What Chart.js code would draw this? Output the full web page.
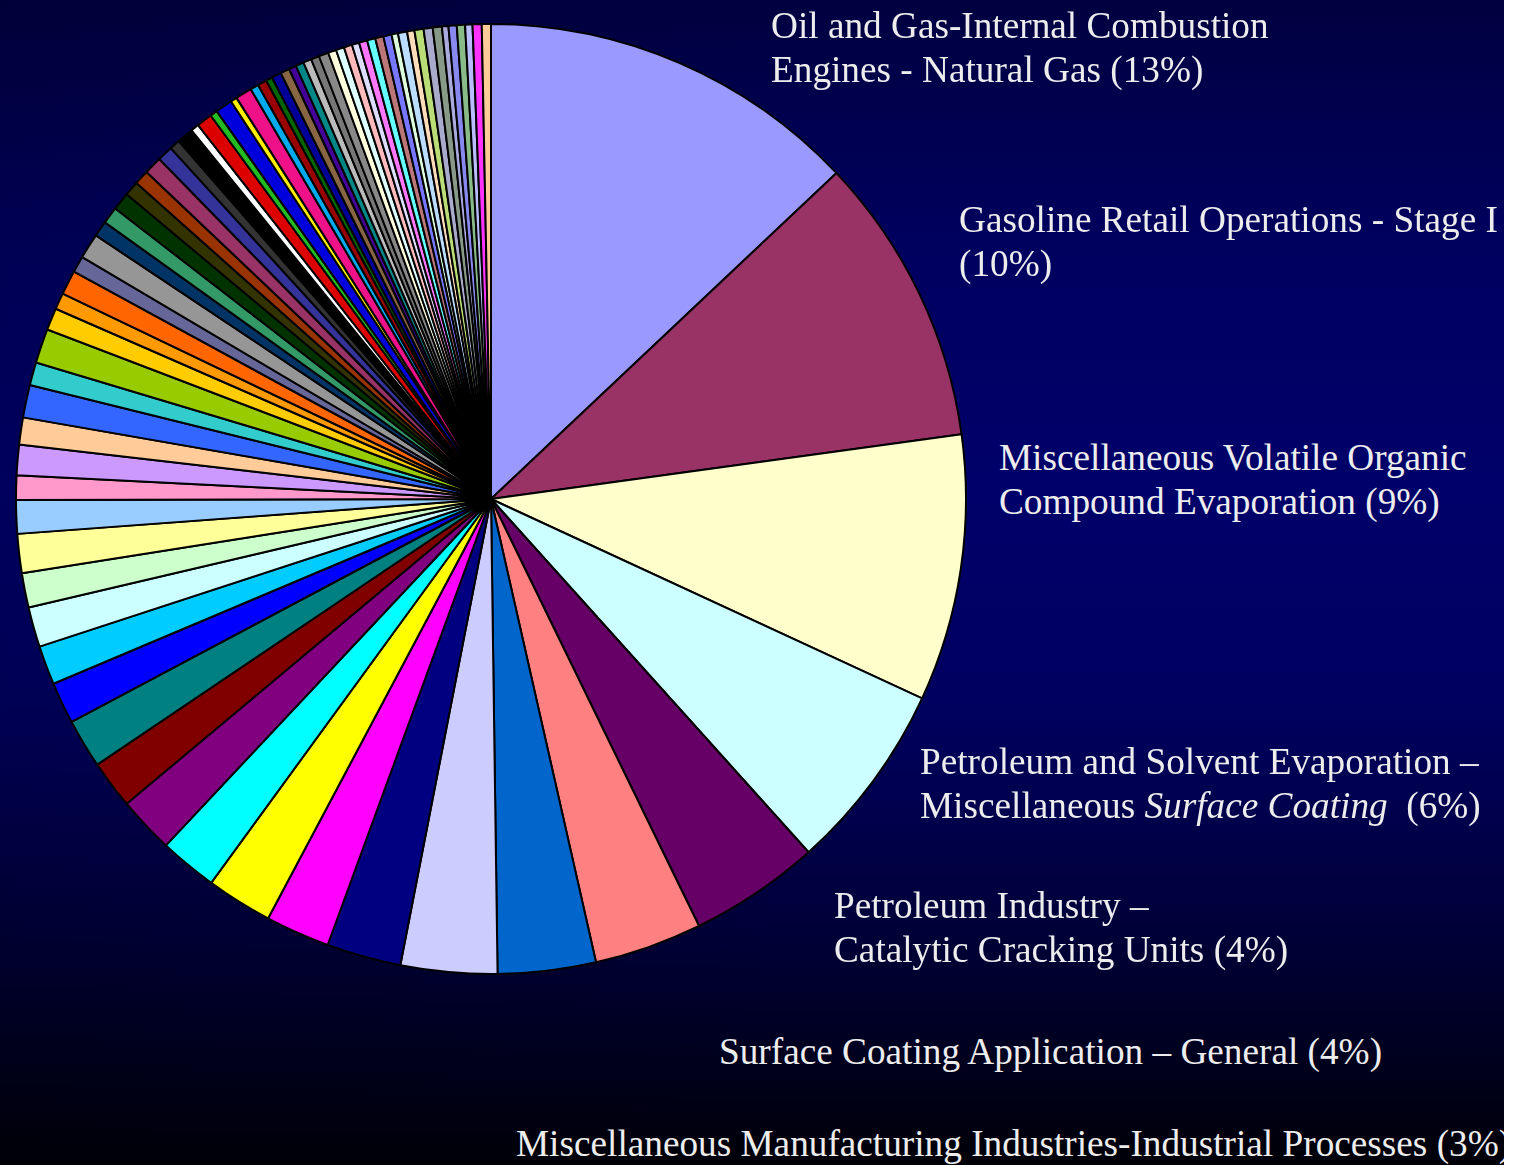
<!DOCTYPE html>
<html>
<head>
<meta charset="utf-8">
<script src="https://cdn.jsdelivr.net/npm/chart.js@4/dist/chart.umd.min.js"></script>
<style>
  html, body { margin: 0; padding: 0; background: #ffffff; }
  body { width: 1522px; height: 1165px; position: relative; overflow: hidden; }
  #bg {
    position: absolute; left: 0; top: 0; width: 1504px; height: 1165px; overflow: hidden;
    background:
      linear-gradient(to right, rgba(0,0,0,0.12) 0%, rgba(0,0,0,0) 55%),
      linear-gradient(to bottom, #000040 0%, #000060 22%, #00006A 42%, #000060 60%, #000038 80%, #000008 100%);
  }
  #wrap { position: absolute; left: 15px; top: 23px; width: 952px; height: 952px; }
  .lbl {
    position: absolute; white-space: pre; color: #EDEDED;
    font-family: "Liberation Serif", "Times New Roman", serif; font-size: 37.25px; line-height: 44px;
  }
</style>
</head>
<body>
<div id="bg">
  <div id="wrap"><canvas id="c" width="952" height="952"></canvas></div>
  <div class="lbl" style="left:771px; top:3.5px;">Oil and Gas-Internal Combustion
Engines - Natural Gas (13%)</div>
  <div class="lbl" style="left:959px; top:197.5px;">Gasoline Retail Operations - Stage I
(10%)</div>
  <div class="lbl" style="left:999px; top:435.5px;">Miscellaneous Volatile Organic
Compound Evaporation (9%)</div>
  <div class="lbl" style="left:920px; top:739.5px;">Petroleum and Solvent Evaporation –
Miscellaneous <i>Surface Coating</i>  (6%)</div>
  <div class="lbl" style="left:834px; top:883.5px;">Petroleum Industry –
Catalytic Cracking Units (4%)</div>
  <div class="lbl" style="left:719px; top:1029.5px;">Surface Coating Application – General (4%)</div>
  <div class="lbl" style="left:516px; top:1121.5px;">Miscellaneous Manufacturing Industries-Industrial Processes (3%)</div>
</div>
<script>
// Named categories (only the labelled sources are named in the picture)
const namedCategories = [
  "Oil and Gas-Internal Combustion Engines - Natural Gas",
  "Gasoline Retail Operations - Stage I",
  "Miscellaneous Volatile Organic Compound Evaporation",
  "Petroleum and Solvent Evaporation – Miscellaneous Surface Coating",
  "Petroleum Industry – Catalytic Cracking Units",
  "Surface Coating Application – General",
  "Miscellaneous Manufacturing Industries-Industrial Processes"
];

// Share of each source (%), clockwise from 12 o'clock
const shares = [
  12.97, 9.86, 9.08, 6.45, 4.44, 3.67, 3.33, 3.28, 2.53, 2.19,
  2.25, 1.97, 1.92, 1.64, 1.67, 1.42, 1.33, 1.36, 1.17, 1.33,
  1.14, 0.83, 1.03, 0.92, 1.11, 0.78, 1.17, 0.75, 0.56, 0.83,
  0.56, 0.86, 0.53, 0.58, 0.61, 0.50, 0.50, 0.61, 0.53, 0.36,
  0.56, 0.28, 0.53, 0.25, 0.58, 0.22, 0.56, 0.28, 0.31, 0.22,
  0.33, 0.31, 0.25, 0.28, 0.28, 0.28, 0.33, 0.28, 0.28, 0.28,
  0.25, 0.28, 0.28, 0.28, 0.28, 0.22, 0.31, 0.25, 0.31, 0.31,
  0.31, 0.22, 0.28, 0.28, 0.25, 0.31, 0.31
];

const sliceColors = [
  "#9999FF", "#993366", "#FFFFCC", "#CCFFFF", "#660066", "#FF8080", "#0066CC", "#CCCCFF", "#000080", "#FF00FF",
  "#FFFF00", "#00FFFF", "#800080", "#800000", "#008080", "#0000FF", "#00CCFF", "#CCFFFF", "#CCFFCC", "#FFFF99",
  "#99CCFF", "#FF99CC", "#CC99FF", "#FFCC99", "#3366FF", "#33CCCC", "#99CC00", "#FFCC00", "#FF9900", "#FF6600",
  "#666699", "#969696", "#003366", "#339966", "#003300", "#333300", "#993300", "#993366", "#333399", "#333333",
  "#000000", "#FFFFFF", "#DD0000", "#22BB22", "#0000DD", "#FFEE00", "#EE1188", "#00AAEE", "#990000", "#006600",
  "#000099", "#886644", "#440099", "#008888", "#BBBBBB", "#777777", "#888888", "#FFFFDD", "#DDFFFF", "#FFBBBB",
  "#DDDDFF", "#FF77FF", "#66FFFF", "#BB7777", "#7777FF", "#DDFFDD", "#BBDDFF", "#FFDDBB", "#BBDD77", "#AAAACC",
  "#889988", "#AAAADD", "#8888EE", "#88BB88", "#BBBBFF", "#FF33FF", "#FFCC99"
];

const categories = shares.map((_, i) => i < namedCategories.length ? namedCategories[i] : "Other source " + (i + 1));

new Chart(document.getElementById("c"), {
  type: "pie",
  data: {
    labels: categories,
    datasets: [{
      data: shares,
      backgroundColor: sliceColors,
      borderColor: "#000000",
      borderWidth: 2,
      hoverOffset: 0,
      offset: 0
    }]
  },
  options: {
    responsive: false,
    animation: false,
    rotation: 0,
    layout: { padding: 0 },
    plugins: { legend: { display: false }, tooltip: { enabled: false } }
  }
});
</script>
</body>
</html>
